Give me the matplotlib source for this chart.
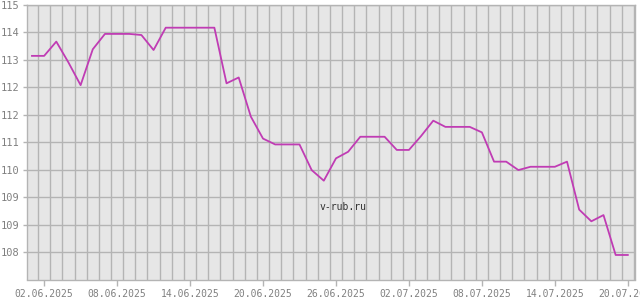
import numpy as np
import matplotlib
matplotlib.use("Agg")
import matplotlib.pyplot as plt
import matplotlib.dates as mdates

# daily rate, 01.06.2025 .. 20.07.2025
start = np.datetime64("2025-06-01")
rate = [113.21, 113.21, 113.60, 113.03, 112.41, 113.39, 113.81, 113.81, 113.81, 113.78,
        113.37, 113.98, 113.98, 113.98, 113.98, 113.98, 112.46, 112.62, 111.55, 110.95,
        110.79, 110.79, 110.79, 110.09, 109.80, 110.41, 110.59, 111.00, 111.00, 111.00,
        110.64, 110.64, 111.02, 111.44, 111.27, 111.27, 111.27, 111.12, 110.32, 110.32,
        110.09, 110.18, 110.18, 110.18, 110.32, 109.01, 108.69, 108.86, 107.77, 107.77]
dates = start + np.arange(len(rate))

ytick_vals = [114.6 - 0.75 * k for k in range(10)]
ytick_labels = [str(round(v)) for v in ytick_vals]
xtick_labels = ["02.06.2025", "08.06.2025", "14.06.2025", "20.06.2025", "26.06.2025",
                "02.07.2025", "08.07.2025", "14.07.2025", "20.07.2025"]

grey = "#b4b4b4"
txt = "#808080"

fig = plt.figure(figsize=(6.4, 3.0), dpi=100)
ax = fig.add_axes([26.5 / 640, 1 - 279.5 / 300, (634.5 - 26.5) / 640, (279.5 - 5) / 300])
ax.set_facecolor("#e6e6e6")

xd = mdates.date2num(dates.astype("datetime64[D]").astype(object))
ax.plot(xd, rate, color="#c03cb4", lw=1.3, zorder=3)

ax.set_xlim(xd[0] - 0.45, xd[-1] + 0.55)
ax.set_ylim(114.6 - 7.5, 114.6)

# gridlines sit half a day off the date ticks
for g in np.arange(xd[0] + 0.5, xd[-1] + 0.6, 1.0):
    ax.axvline(g, color=grey, lw=1, zorder=1)
for v in ytick_vals:
    ax.axhline(v, color=grey, lw=1, zorder=1)

xticks = xd[1::6]
ax.set_xticks(xticks)
ax.set_xticklabels(xtick_labels)
ax.set_yticks(ytick_vals)
ax.set_yticklabels(ytick_labels)

for lab in ax.get_xticklabels() + ax.get_yticklabels():
    lab.set_family("DejaVu Sans Mono")
ax.tick_params(axis="x", length=4, width=1, color=grey, labelsize=7, labelcolor=txt, pad=3)
ax.tick_params(axis="y", length=3, width=1, color=grey, labelsize=7.5, labelcolor=txt, pad=2)

for s in ax.spines.values():
    s.set_color(grey)
    s.set_linewidth(1)

ax.text(0.52, 0.265, "v-rub.ru", transform=ax.transAxes, ha="center", va="center",
        family="DejaVu Sans Mono", fontsize=7, color="#303030", zorder=4)

fig.savefig("out.png", dpi=100)
